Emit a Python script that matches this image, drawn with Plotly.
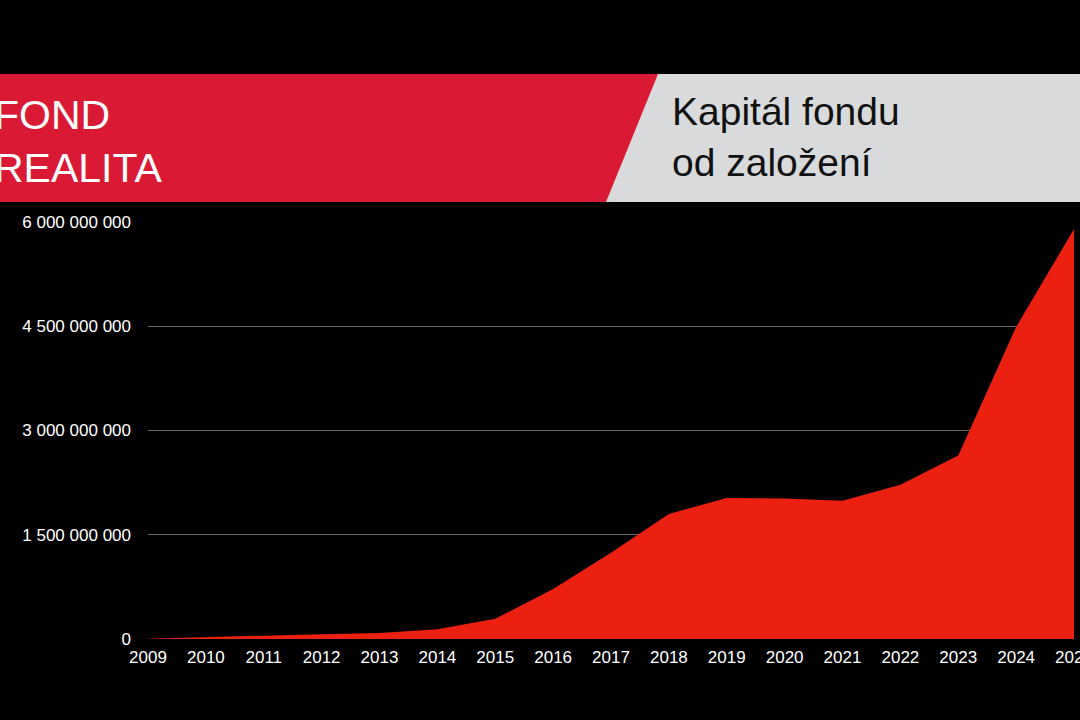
import plotly.graph_objects as go

years = list(range(2009, 2026))
capital = [0.005e9, 0.03e9, 0.045e9, 0.07e9, 0.085e9, 0.14e9, 0.29e9, 0.72e9,
           1.24e9, 1.80e9, 2.03e9, 2.02e9, 1.99e9, 2.22e9, 2.64e9, 4.49e9, 5.90e9]
y_tickvals = [0, 1.5e9, 3e9, 4.5e9, 6e9]
y_ticktext = ["0", "1 500 000 000", "3 000 000 000", "4 500 000 000", "6 000 000 000"]
brand = ["FOND", "REALITA"]
title_lines = ["Kapitál fondu", "od založení"]

W, H = 1080, 720
L, R, T, B = 148, 6, 222, 81
PW, PH = W - L - R, H - T - B

def px(x):
    return (x - L) / PW

def py(y):
    return (H - B - y) / PH

FONT = "Liberation Sans, Arial, Helvetica, sans-serif"

fig = go.Figure()
fig.add_trace(go.Scatter(
    x=years, y=capital, mode="lines", fill="tozeroy",
    line=dict(color="#EC2010", width=0, shape="linear"),
    fillcolor="#EC2010", hoverinfo="skip", showlegend=False,
))

shapes = [
    dict(type="rect", xref="paper", yref="paper", x0=px(0), x1=px(1080), y0=py(202), y1=py(74),
         fillcolor="#D9DADC", line=dict(width=0), layer="above"),
    dict(type="path", xref="paper", yref="paper",
         path=f"M {px(0)} {py(74)} L {px(658)} {py(74)} L {px(606)} {py(202)} L {px(0)} {py(202)} Z",
         fillcolor="#DA1A35", line=dict(width=0), layer="above"),
]

annotations = [
    dict(xref="paper", yref="paper", x=px(-8), y=py(90), xanchor="left", yanchor="top",
         text="<br>".join(brand), showarrow=False, align="left",
         font=dict(family=FONT, size=41, color="white")),
    dict(xref="paper", yref="paper", x=px(670), y=py(88), xanchor="left", yanchor="top",
         text="<br>".join(title_lines), showarrow=False, align="left",
         font=dict(family=FONT, size=39, color="#111111")),
]

fig.update_layout(
    width=W, height=H,
    margin=dict(l=L, r=R, t=T, b=B),
    paper_bgcolor="black", plot_bgcolor="black",
    shapes=shapes, annotations=annotations,
    font=dict(family=FONT, size=17, color="white"),
    xaxis=dict(range=[2009, 2025], tickvals=years, ticktext=[str(y) for y in years],
               showgrid=False, zeroline=False, showline=False, ticks="",
               ticklabelstandoff=6, ticklabeloverflow="allow", automargin=False,
               tickfont=dict(size=17, color="white")),
    yaxis=dict(range=[0, 6e9], tickvals=y_tickvals, ticktext=y_ticktext,
               showgrid=True, gridcolor="#6a6a6a", gridwidth=1, zeroline=False,
               showline=False, ticks="", ticklabelstandoff=16, automargin=False,
               tickfont=dict(size=17, color="white")),
)

fig.write_html(
    "out.html",
    config={"displayModeBar": False},
    post_script="document.body.style.margin='0';document.body.style.background='black';document.body.style.overflow='hidden';",
)
